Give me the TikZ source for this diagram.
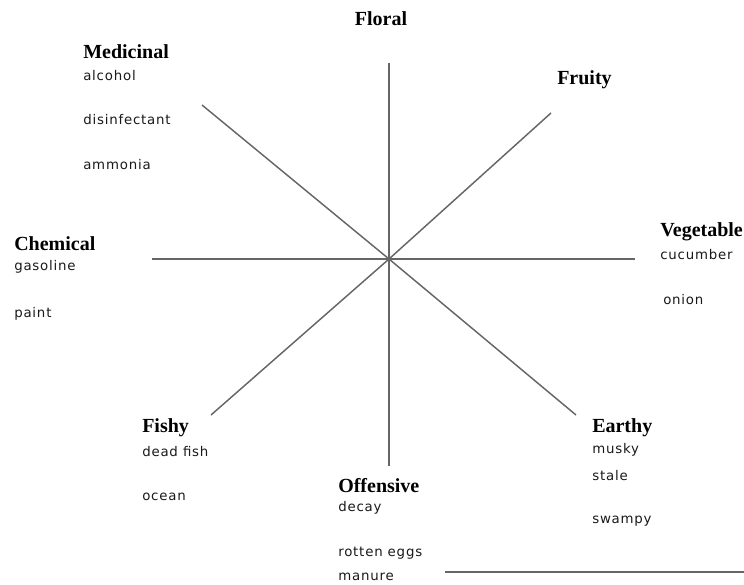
\documentclass[tikz,border=0pt]{standalone}
\usepackage{fontspec}
\setmainfont{Liberation Serif}
\newfontfamily\itemfont[LetterSpace=6]{DejaVu Sans}
\usetikzlibrary{positioning}
\tikzset{
  group/.style = {font=\bfseries\fontsize{15}{17}\selectfont, inner sep=0pt, anchor=west},
  odour/.style = {font=\itemfont\fontsize{10}{12}\selectfont, text=black!90, inner sep=0pt, anchor=west},
  spoke/.style = {draw=black!60, line width=1.1pt}
}

\begin{document}
\begin{tikzpicture}[x=0.75pt, y=-0.75pt]
\useasboundingbox (0,0) rectangle (744,585);

% wheel
\coordinate (hub) at (389,259);
\coordinate (n) at (389,63);
\coordinate (s) at (389,466);
\coordinate (w) at (152,259);
\coordinate (e) at (635,259);
\coordinate (nw) at (202,105);
\coordinate (se) at (576,415);
\coordinate (ne) at (551,113);
\coordinate (sw) at (211,415);
\foreach \p in {n,s,w,e,nw,se,ne,sw}
  \draw[spoke] (hub) -- (\p);

% groups
\node[group, anchor=center] (floral) at (381,19) {Floral};
\node[group] (fruity) at (557,80) {Fruity};
\node[group] (medicinal) at (83,52) {Medicinal};
\node[group] (chemical) at (14,244) {Chemical};
\node[group] (vegetable) at (660,232) {Vegetable};
\node[group] (fishy) at (142,428) {Fishy};
\node[group] (offensive) at (338,486) {Offensive};
\node[group] (earthy) at (592,428) {Earthy};

% odours
\node[odour] (alcohol) at (83,76) {alcohol};
\node[odour] (disinfectant) at (83,120) {disinfectant};
\node[odour] (ammonia) at (83,165) {ammonia};
\node[odour] (gasoline) at (14,267) {gasoline};
\node[odour] (paint) at (14,314) {paint};
\node[odour] (cucumber) at (660,255) {cucumber};
\node[odour] (onion) at (663,300) {onion};
\node[odour] (deadfish) at (142,452) {dead fish};
\node[odour] (ocean) at (142,497) {ocean};
\node[odour] (decay) at (338,508) {decay};
\node[odour] (rotten) at (338,553) {rotten eggs};
\node[odour] (manure) at (338,577) {manure};
\node[odour] (musky) at (592,450) {musky};
\node[odour] (stale) at (592,476) {stale};
\node[odour] (swampy) at (592,521) {swampy};

% rule under the last row
\coordinate (rulestart) at (445,572);
\coordinate (ruleend) at (744,572);
\draw[spoke] (rulestart) -- (ruleend);
\end{tikzpicture}
\end{document}
